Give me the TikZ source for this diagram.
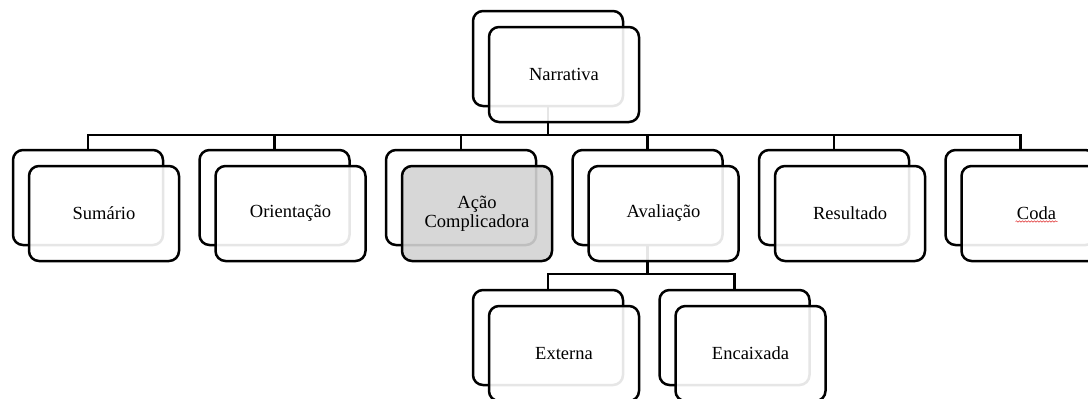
\documentclass[tikz,border=0pt]{standalone}
\usepackage{fontspec}
\setmainfont{Liberation Serif}
\usetikzlibrary{positioning,calc,decorations.pathmorphing}
\definecolor{Shade}{HTML}{D3D3D3}
\definecolor{Squiggle}{HTML}{E03030}

\begin{document}
\begin{tikzpicture}[
    backbox/.style={draw,rounded corners=10pt,line width=2.5pt,fill=white,
      minimum width=150pt,minimum height=95pt,inner sep=0pt},
    frontbox/.style={backbox,fill opacity=0.9,text opacity=1,align=center,
      font=\fontsize{18.5}{19}\selectfont,xshift=16pt,yshift=-16pt},
    conn/.style={line width=2.2pt},
    node distance=34pt]
    \fill[white] (0,0) rectangle (1088pt,-399pt);
    \useasboundingbox (0,0) rectangle (1088pt,-399pt);
    % back frames
    \node[backbox] (narB) at (548pt,-58.5pt) {};
    \node[backbox] (sumB) at (88pt,-197.5pt) {};
    \node[backbox,right=of sumB] (oriB) {};
    \node[backbox,right=of oriB] (acaB) {};
    \node[backbox,right=of acaB] (avaB) {};
    \node[backbox,right=of avaB] (resB) {};
    \node[backbox,right=of resB] (codB) {};
    \node[backbox] (extB) at (548pt,-337.5pt) {};
    \node[backbox,right=of extB] (encB) {};
    % connectors
    \foreach \c in {sumB,oriB,acaB,avaB,resB,codB}
      \draw[conn] (narB.south) -- ++(0,-28pt) -| (\c.north);
    \foreach \c in {extB,encB}
      \draw[conn] (avaB.south) -- ++(0,-28pt) -| (\c.north);
    % front frames
    \node[frontbox] (narF) at (narB) {Narrativa};
    \node[frontbox] (sumF) at (sumB) {Sumário};
    \node[frontbox] (oriF) at (oriB) {Orientação};
    \node[frontbox,fill=Shade] (acaF) at (acaB) {Ação\\Complicadora};
    \node[frontbox] (avaF) at (avaB) {Avaliação};
    \node[frontbox] (resF) at (resB) {Resultado};
    \node[frontbox] (codF) at (codB) {Coda};
    \node[frontbox] (extF) at (extB) {Externa};
    \node[frontbox] (encF) at (encB) {Encaixada};
    \draw[Squiggle,line width=0.5pt,decorate,
      decoration={snake,segment length=3pt,amplitude=0.7pt}]
      ($(codF.center)+(-21pt,-8pt)$) -- ($(codF.center)+(21pt,-8pt)$);
\end{tikzpicture}
\end{document}
